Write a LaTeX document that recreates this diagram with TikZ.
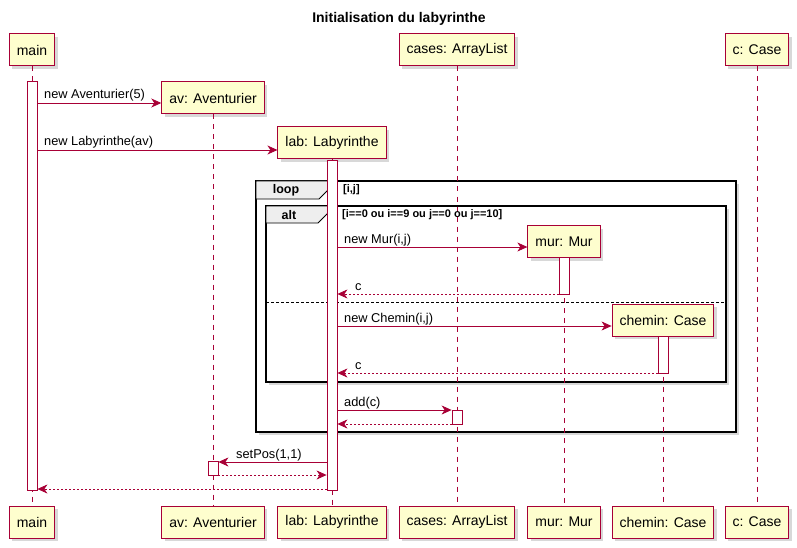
\documentclass[tikz,border=0pt]{standalone}
\usepackage{fontspec}
\setmainfont{Liberation Sans}
\usetikzlibrary{arrows.meta,shadows}

\definecolor{umlred}{HTML}{A80036}
\definecolor{umlfill}{HTML}{FEFECE}
\definecolor{tabgray}{HTML}{EEEEEE}

\tikzset{
    participant/.style={draw=umlred,fill=umlfill,line width=1pt,minimum height=32pt,inner xsep=7.5pt,
        font=\fontsize{14}{16}\selectfont,drop shadow={shadow xshift=3pt,shadow yshift=-3pt,opacity=.3}},
    lifeline/.style={umlred,line width=.8pt,dash pattern=on 5pt off 5pt},
    activation/.style={draw=umlred,fill=white,line width=.8pt,minimum width=10pt,inner sep=0pt,anchor=north},
    msg/.style={umlred,line width=.8pt,-{Stealth[length=10pt,width=9pt,inset=3pt]}},
    reply/.style={msg,dash pattern=on 2pt off 2pt},
    msglabel/.style={font=\fontsize{12.8}{14}\selectfont,inner sep=0pt},
    frame/.style={black,line width=1.8pt,fill=white,drop shadow={shadow xshift=3pt,shadow yshift=-3pt,opacity=.3}},
    tab/.style={black,line width=.8pt,fill=tabgray},
    tablabel/.style={font=\bfseries\fontsize{12.5}{14}\selectfont},
    guard/.style={font=\bfseries\fontsize{11}{13}\selectfont,anchor=west,inner sep=0pt},
}

\begin{document}
\begin{tikzpicture}[x=1pt,y=-1pt]
    \useasboundingbox[fill=white] (0,0) rectangle (797,548);
    % title
    \node[font=\bfseries\fontsize{14}{16}\selectfont] (title) at (399,19) {Initialisation du labyrinthe};
    % frames
    \draw[frame] (256,181) rectangle (736,432);
    \draw[frame] (266,206) rectangle (726,382);
    \draw[black,line width=.6pt,dash pattern=on 3pt off 2pt] (266,302) -- (726,302);
    % participants (top)
    \node[participant] (mainTop)  at (32,50)   {main};
    \node[participant] (avTop)    at (213,98)  {av: Aventurier};
    \node[participant] (labTop)   at (332,143) {lab: Labyrinthe};
    \node[participant] (casesTop) at (457,50)  {cases: ArrayList};
    \node[participant] (murTop)   at (564,241.5) {mur: Mur};
    \node[participant] (cheminTop) at (663,320) {chemin: Case};
    \node[participant] (cTop)     at (757,50)  {c: Case};
    % participants (bottom)
    \node[participant] (mainBot)   at (32,522)  {main};
    \node[participant] (avBot)     at (213,522) {av: Aventurier};
    \node[participant] (labBot)    at (332,522) {lab: Labyrinthe};
    \node[participant] (casesBot)  at (457,522) {cases: ArrayList};
    \node[participant] (murBot)    at (564,522) {mur: Mur};
    \node[participant] (cheminBot) at (663,522) {chemin: Case};
    \node[participant] (cBot)      at (757,522) {c: Case};
    % lifelines
    \foreach \p in {main,av,lab,cases,mur,chemin,c} {
        \draw[lifeline] (\p Top) -- (\p Bot);
    }
    % tabs
    \draw[tab] (256,181) -- (329,181) -- (329,189) -- (319,199) -- (256,199) -- cycle;
    \node[tablabel] (loopLabel) at (286,190) {loop};
    \node[guard] (loopGuard) at (343,190) {[i,j]};
    \draw[tab] (266,206) -- (328,206) -- (328,213) -- (318,223) -- (266,223) -- cycle;
    \node[tablabel] (altLabel) at (289,215) {alt};
    \node[guard] (altGuard) at (342,215) {[i==0 ou i==9 ou j==0 ou j==10]};
    % activations
    \node[activation,minimum height=409pt] (mainAct)   at (32,81)   {};
    \node[activation,minimum height=330pt] (labAct)    at (332,160) {};
    \node[activation,minimum height=37pt]  (murAct)    at (564,257) {};
    \node[activation,minimum height=37pt]  (cheminAct) at (663,336) {};
    \node[activation,minimum height=14pt]  (casesAct)  at (457,410) {};
    \node[activation,minimum height=14pt]  (avAct)     at (213,461) {};
    % messages
    \draw[msg] (mainAct.east |- 0,103) -- (avTop.west |- 0,103);
    \node[msglabel,anchor=base west] at (44,99) {new Aventurier(5)};
    \draw[msg] (mainAct.east |- 0,150) -- (labTop.west |- 0,150);
    \node[msglabel,anchor=base west] at (44,146) {new Labyrinthe(av)};
    \draw[msg] (labAct.east |- 0,247) -- (murTop.west |- 0,247);
    \node[msglabel,anchor=base west] at (344,243) {new Mur(i,j)};
    \draw[reply] (murAct.west |- 0,294) -- (labAct.east |- 0,294);
    \node[msglabel,anchor=base west] at (355,290) {c};
    \draw[msg] (labAct.east |- 0,326) -- (cheminTop.west |- 0,326);
    \node[msglabel,anchor=base west] at (344,322) {new Chemin(i,j)};
    \draw[reply] (cheminAct.west |- 0,373) -- (labAct.east |- 0,373);
    \node[msglabel,anchor=base west] at (355,369) {c};
    \draw[msg] (labAct.east |- 0,410) -- (casesAct.west |- 0,410);
    \node[msglabel,anchor=base west] at (344,406) {add(c)};
    \draw[reply] (casesAct.west |- 0,424) -- (labAct.east |- 0,424);
    \draw[msg] (labAct.west |- 0,462) -- (avAct.east |- 0,462);
    \node[msglabel,anchor=base west] at (236,458) {setPos(1,1)};
    \draw[reply] (avAct.east |- 0,475) -- (labAct.west |- 0,475);
    \draw[reply] (labAct.west |- 0,489) -- (mainAct.east |- 0,489);
\end{tikzpicture}
\end{document}
